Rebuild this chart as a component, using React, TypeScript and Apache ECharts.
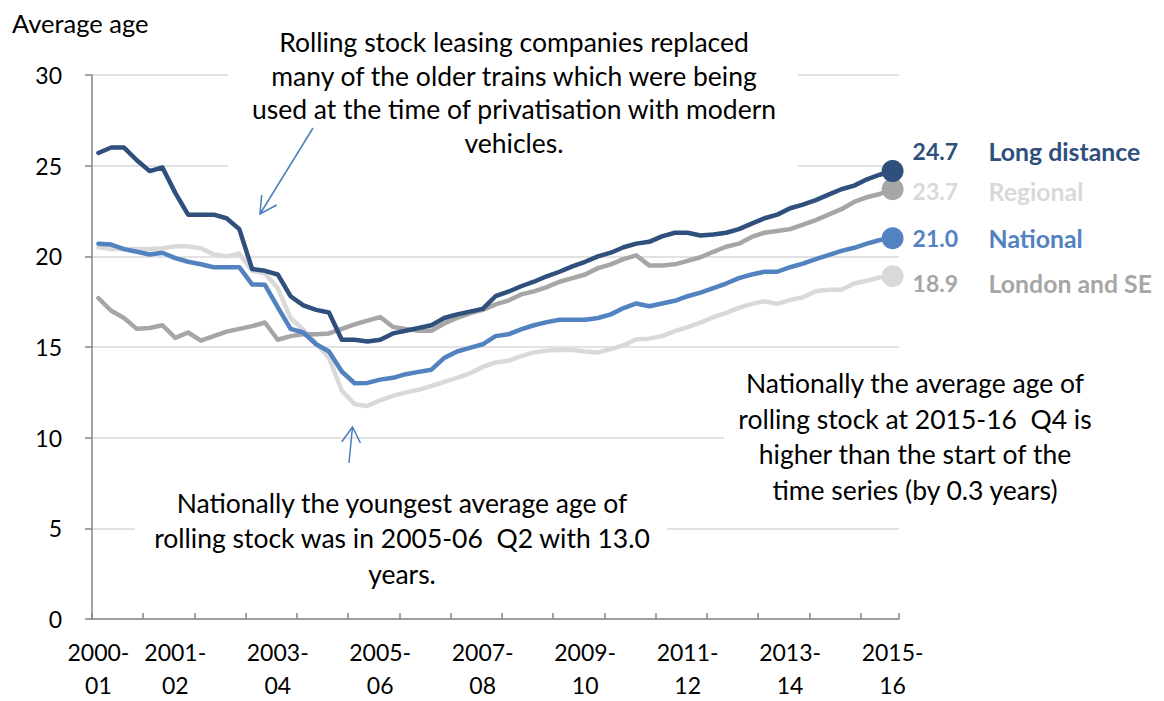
import React, { useEffect, useRef } from "react";
import * as echarts from "echarts";

// Financial years and quarters: the series run from 2000-01 Q2 to 2015-16 Q4 (63 quarters)
const financialYears = [
  "2000-01", "2001-02", "2002-03", "2003-04", "2004-05", "2005-06", "2006-07", "2007-08",
  "2008-09", "2009-10", "2010-11", "2011-12", "2012-13", "2013-14", "2014-15", "2015-16",
];
const quarters = ["Q1", "Q2", "Q3", "Q4"];
const categories: string[] = financialYears
  .flatMap((fy) => quarters.map((q) => `${fy} ${q}`))
  .slice(1);

// Categories that carry a tick label on the x axis
const tickLabelCategories = [
  "2000-01 Q2", "2001-02 Q4", "2003-04 Q4", "2005-06 Q4", "2007-08 Q4",
  "2009-10 Q4", "2011-12 Q4", "2013-14 Q4", "2015-16 Q4",
];

// Average age of rolling stock (years)
const longDistance = [
  25.7, 26.0, 26.0, 25.3, 24.7, 24.9, 23.5, 22.3, 22.3, 22.3,
  22.1, 21.5, 19.3, 19.2, 19.0, 17.8, 17.3, 17.05, 16.9, 15.4,
  15.4, 15.3, 15.4, 15.75, 15.9, 16.05, 16.2, 16.6, 16.8, 16.95,
  17.1, 17.8, 18.05, 18.35, 18.6, 18.9, 19.15, 19.45, 19.7, 20.0,
  20.2, 20.5, 20.7, 20.8, 21.1, 21.3, 21.3, 21.15, 21.2, 21.3,
  21.5, 21.8, 22.1, 22.3, 22.65, 22.85, 23.1, 23.4, 23.7, 23.9,
  24.25, 24.5, 24.7,
];
const regional = [
  17.7, 17.0, 16.6, 16.0, 16.05, 16.2, 15.5, 15.8, 15.35, 15.6,
  15.85, 16.0, 16.15, 16.35, 15.4, 15.6, 15.7, 15.7, 15.75, 16.0,
  16.25, 16.45, 16.65, 16.1, 16.0, 15.9, 15.9, 16.3, 16.6, 16.85,
  17.05, 17.35, 17.56, 17.9, 18.07, 18.3, 18.6, 18.8, 19.0, 19.35,
  19.56, 19.85, 20.05, 19.5, 19.5, 19.56, 19.75, 19.95, 20.25, 20.53,
  20.7, 21.07, 21.3, 21.4, 21.5, 21.75, 22.0, 22.3, 22.6, 23.0,
  23.26, 23.44, 23.7,
];
const national = [
  20.7, 20.65, 20.4, 20.25, 20.1, 20.2, 19.9, 19.7, 19.56, 19.4,
  19.4, 19.4, 18.45, 18.43, 17.2, 16.0, 15.8, 15.15, 14.75, 13.65,
  13.0, 13.02, 13.2, 13.3, 13.5, 13.63, 13.75, 14.4, 14.75, 14.95,
  15.15, 15.6, 15.7, 15.97, 16.2, 16.37, 16.5, 16.5, 16.5, 16.6,
  16.8, 17.15, 17.4, 17.25, 17.4, 17.55, 17.8, 18.0, 18.25, 18.5,
  18.8, 19.0, 19.15, 19.15, 19.4, 19.6, 19.85, 20.07, 20.3, 20.47,
  20.7, 20.9, 21.0,
];
const londonSE = [
  20.5, 20.4, 20.4, 20.4, 20.4, 20.45, 20.55, 20.55, 20.45, 20.1,
  20.0, 20.15, 19.2, 19.05, 18.25, 16.6, 15.95, 15.2, 14.4, 12.6,
  11.85, 11.75, 12.06, 12.3, 12.5, 12.64, 12.85, 13.08, 13.3, 13.55,
  13.9, 14.15, 14.24, 14.5, 14.7, 14.8, 14.83, 14.83, 14.75, 14.7,
  14.88, 15.1, 15.43, 15.46, 15.6, 15.88, 16.1, 16.34, 16.65, 16.88,
  17.16, 17.38, 17.52, 17.38, 17.6, 17.74, 18.07, 18.16, 18.16, 18.5,
  18.65, 18.84, 18.9,
];

const yTicks = { min: 0, max: 30, interval: 5 };

const FONT = "Lato, 'Open Sans', sans-serif";
const FS_NUM = 23;
const FS_TEXT = 26.5;
const FS_NAME = 24.8;

const topNote =
  "Rolling stock leasing companies replaced\nmany of the older trains which were being\nused at the time of privatisation with modern\nvehicles.";
const bottomNote =
  "Nationally the youngest average age of\nrolling stock was in 2005-06  Q2 with 13.0\nyears.";
const rightNote =
  "Nationally the average age of\nrolling stock at 2015-16  Q4 is\nhigher than the start of the\ntime series (by 0.3 years)";

const seriesDefs = [
  { name: "London and SE", data: londonSE, color: "#d9d9d9", textColor: "#a6a6a6", dy: 7 },
  { name: "Regional", data: regional, color: "#a6a6a6", textColor: "#d9d9d9", dy: 2 },
  { name: "National", data: national, color: "#5282c0", textColor: "#5282c0", dy: 0 },
  { name: "Long distance", data: longDistance, color: "#2f4f7c", textColor: "#2f4f7c", dy: -20 },
];

function buildOption() {
  const last = categories.length - 1;
  const series = seriesDefs.map((s, k) => ({
    type: "line",
    name: s.name,
    z: 2 + k,
    clip: false,
    symbol: "circle",
    symbolSize: 0,
    showAllSymbol: true,
    lineStyle: { width: 4.5, color: s.color, cap: "round", join: "round" },
    itemStyle: { color: s.color },
    emphasis: { disabled: true },
    data: s.data.map((v, i) =>
      i === last
        ? {
            value: v,
            symbolSize: 22,
            label: {
              show: true,
              position: "right",
              distance: 9,
              offset: [0, s.dy],
              formatter: `{v|${v.toFixed(1)}}{n|${s.name}}`,
              rich: {
                v: { fontFamily: FONT, fontSize: FS_NUM, fontWeight: "bold", color: s.textColor, width: 76 },
                n: { fontFamily: FONT, fontSize: FS_NAME, fontWeight: "bold", color: s.textColor },
              },
            },
          }
        : v
    ),
  }));

  const arrowColor = "#4a7ebb";
  const textStyle = (text: string, lineHeight: number) => ({
    text,
    fontFamily: FONT,
    fontSize: FS_TEXT,
    fill: "#000",
    lineHeight,
    align: "center",
    verticalAlign: "top",
    textAlign: "center",
    textVerticalAlign: "top",
  });

  return {
    animation: false,
    textStyle: { fontFamily: FONT },
    grid: { left: 84, top: 67, right: 265, bottom: 77 },
    xAxis: {
      type: "category",
      data: categories,
      boundaryGap: true,
      axisLine: { lineStyle: { color: "#868686", width: 1.5 } },
      axisTick: { show: true, inside: true, length: 6, interval: 3, lineStyle: { color: "#868686", width: 1.5 } },
      axisLabel: {
        interval: (_i: number, v: string) => tickLabelCategories.includes(v),
        formatter: (v: string) => {
          const fy = v.split(" ")[0];
          const [a, b] = fy.split("-");
          return `${a}-\n${b}`;
        },
        fontFamily: FONT,
        fontSize: FS_NUM,
        color: "#000",
        lineHeight: 33,
        margin: 16,
      },
      splitLine: { show: false },
    },
    yAxis: {
      type: "value",
      min: yTicks.min,
      max: yTicks.max,
      interval: yTicks.interval,
      axisLine: { show: true, lineStyle: { color: "#868686", width: 1.5 } },
      axisTick: { show: true, inside: false, length: 7, lineStyle: { color: "#868686", width: 1.5 } },
      axisLabel: { fontFamily: FONT, fontSize: FS_NUM, color: "#000", margin: 30 },
      splitLine: { show: true, lineStyle: { color: "#d9d9d9", width: 1.5 } },
    },
    series,
    graphic: [
      { type: "rect", z: 1, silent: true, shape: { x: 220, y: 10, width: 570, height: 154 }, style: { fill: "#fff" } },
      { type: "rect", z: 1, silent: true, shape: { x: 127, y: 462, width: 532, height: 130 }, style: { fill: "#fff" } },
      { type: "rect", z: 1, silent: true, shape: { x: 716, y: 350, width: 440, height: 160 }, style: { fill: "#fff" } },
      { type: "text", z: 10, x: 4, y: 15, style: { text: "Average age", fontFamily: FONT, fontSize: 25.5, fill: "#000", verticalAlign: "middle", textVerticalAlign: "middle" } },
      { type: "text", z: 10, x: 506, y: 17, style: textStyle(topNote, 33.7) },
      { type: "text", z: 10, x: 394, y: 477, style: textStyle(bottomNote, 35.5) },
      { type: "text", z: 10, x: 907, y: 357, style: textStyle(rightNote, 35.7) },
      { type: "line", z: 10, shape: { x1: 305, y1: 120, x2: 252, y2: 206 }, style: { stroke: arrowColor, lineWidth: 1.5 } },
      { type: "polyline", z: 10, shape: { points: [[253.7, 187], [252, 206], [268.7, 197]] }, style: { stroke: arrowColor, lineWidth: 1.5, fill: "none" } },
      { type: "line", z: 10, shape: { x1: 341, y1: 455, x2: 344.5, y2: 419 }, style: { stroke: arrowColor, lineWidth: 1.5 } },
      { type: "polyline", z: 10, shape: { points: [[333.8, 433.7], [344.5, 419], [352.4, 435]] }, style: { stroke: arrowColor, lineWidth: 1.5, fill: "none" } },
    ],
  };
}

export default function App() {
  const ref = useRef<HTMLDivElement>(null);
  useEffect(() => {
    if (!ref.current) return;
    const chart = echarts.init(ref.current, null, { renderer: "svg" });
    chart.setOption(buildOption() as any);
    return () => chart.dispose();
  }, []);
  return <div ref={ref} style={{ width: 1156, height: 693 }} />;
}
